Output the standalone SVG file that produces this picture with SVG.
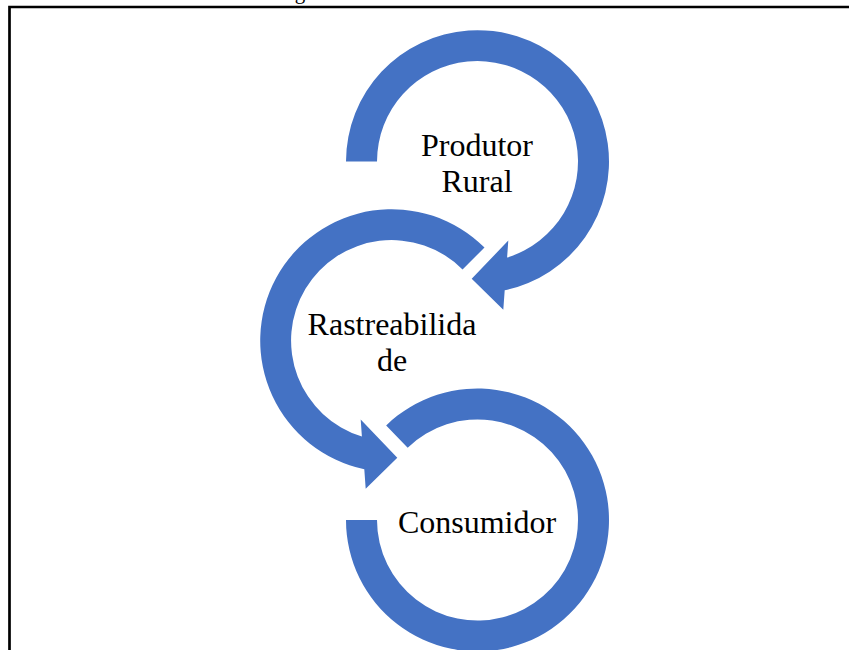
<svg xmlns="http://www.w3.org/2000/svg" width="849" height="650" viewBox="0 0 849 650">
  <style>
    .arr { fill: #4472C4; stroke: none; }
    .lbl { font-family: "Liberation Serif", "Times New Roman", serif; font-size: 32px; fill: #000000; text-anchor: middle; }
    .frame { fill: none; stroke: #000000; stroke-width: 2.7; }
  </style>
  <rect width="849" height="650" fill="#ffffff"/>
  <text x="300" y="-1" font-family="Liberation Serif, serif" font-size="21" text-anchor="middle" fill="#000">g</text>
  <path class="frame" d="M 9.5,655 V 7 H 855"/>
  <g id="connectors">
  </g>
  <g id="node-produtor">
    <path class="arr" d="M 346,161.5 A 131.5 131.5 0 1 1 504.7,290.3 L 503.3,309.8 L 471.7,278.8 L 508.3,240.5 L 507.1,257.6 A 100.5 100.5 0 1 0 377,161.5 Z"/>
    <text class="lbl" x="477" y="156">Produtor</text>
    <text class="lbl" x="477" y="192">Rural</text>
  </g>
  <g id="node-rastreabilidade">
    <path class="arr" d="M 484.5,247.5 A 131.5 131.5 0 1 0 364.3,469.3 L 365.7,488.8 L 397.3,457.8 L 360.7,419.5 L 361.9,436.6 A 100.5 100.5 0 1 1 462.56,269.44 Z"/>
    <text class="lbl" x="392" y="335">Rastreabilida</text>
    <text class="lbl" x="392" y="371">de</text>
  </g>
  <g id="node-consumidor">
    <path class="arr" d="M 386.15,425.41 A 131.5 131.5 0 1 1 346,520 L 377,520 A 100.5 100.5 0 1 0 407.69,447.71 Z"/>
    <text class="lbl" x="477" y="533">Consumidor</text>
  </g>
</svg>
